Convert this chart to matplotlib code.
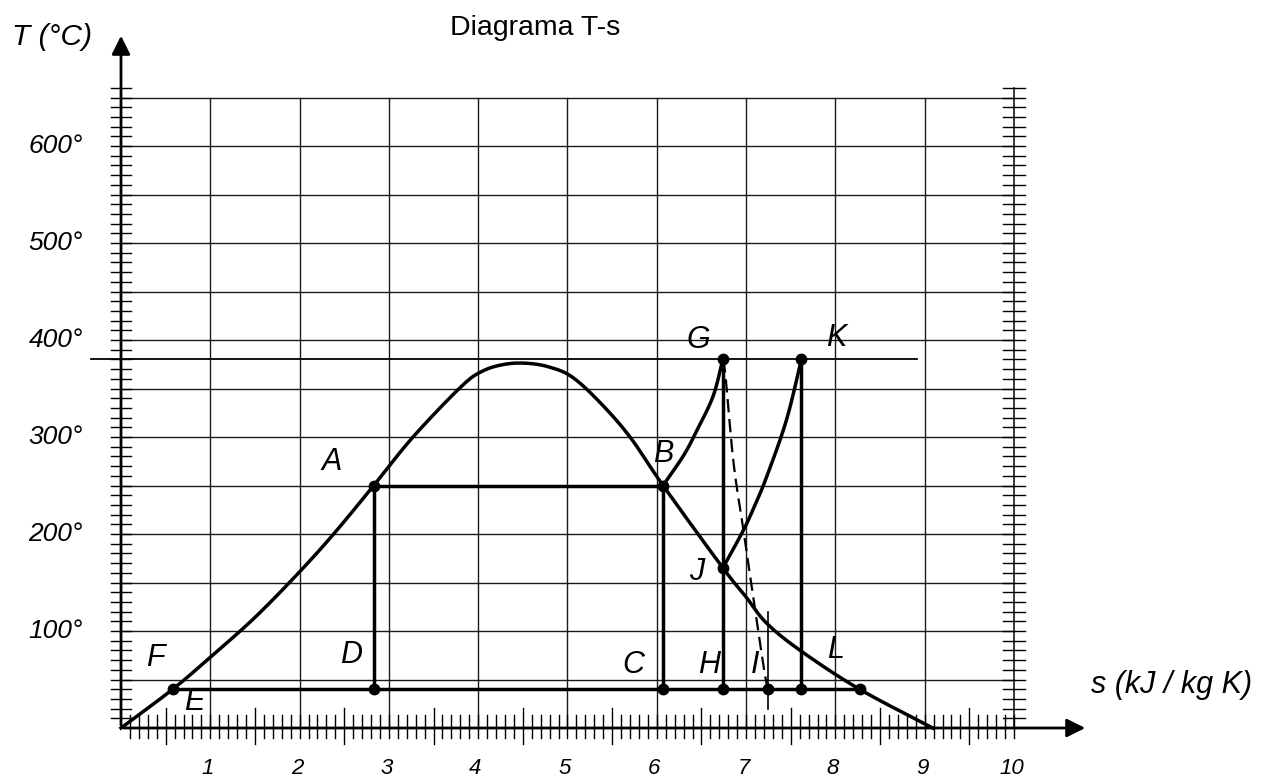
import matplotlib
matplotlib.use("Agg")
import matplotlib.pyplot as plt
import numpy as np

plt.rcParams['font.family'] = ['Liberation Sans', 'DejaVu Sans']

# saturation dome (s in kJ/kg K, T in degC)
dome_s = [0.0, 0.58, 1.0, 1.5, 2.0, 2.4, 2.83, 3.27, 3.81, 4.05, 4.30, 4.55,
          4.80, 5.05, 5.36, 5.70, 6.07, 6.74, 7.0, 7.23, 7.62, 8.27, 9.09]
dome_T = [0, 40, 73, 114, 161, 202, 250, 300, 352, 368, 375, 376,
          372, 362, 336, 300, 250, 165, 135, 108, 79, 40, 0]

# superheating B -> G and reheating J -> K
bg_s = [6.07, 6.30, 6.45, 6.63, 6.74]
bg_T = [250, 281, 307, 342, 380]
jk_s = [6.74, 6.97, 7.10, 7.23, 7.45, 7.62]
jk_T = [165, 204, 230, 259, 317, 380]

# real expansion G -> I (dashed)
gi_s = [6.74, 6.77, 6.86, 6.97, 7.08, 7.19, 7.24]
gi_T = [380, 362, 273, 204, 135, 67, 40]

# cycle lines
t_high = 380
t_evap = 250
t_cond = 40

# points with dots
dot_s = [0.58, 2.83, 6.07, 6.74, 7.24, 7.62, 8.27, 2.83, 6.07, 6.74, 6.74, 7.62]
dot_T = [40, 40, 40, 40, 40, 40, 40, 250, 250, 165, 380, 380]

# letter labels
lab_txt = ['A', 'B', 'C', 'D', 'E', 'F', 'G', 'H', 'I', 'J', 'K', 'L']
lab_s = [2.36, 6.07, 5.74, 2.58, 0.82, 0.38, 6.47, 6.58, 7.10, 6.45, 8.01, 8.0]
lab_T = [274, 282, 65, 75, 27, 72, 400, 65, 65, 161, 402, 80]

y_ticks = [100, 200, 300, 400, 500, 600]
x_ticks = [1, 2, 3, 4, 5, 6, 7, 8, 9, 10]

# pixel scale of the drawing
PXS = 89.3   # px per unit of s
PXT = 0.97   # px per degC
X0, Y0 = 121, 728
W, H = 1273, 784


def smooth(xs, ys, n=12):
    # catmull-rom through the given points, just for drawing
    p = np.column_stack([xs, ys]).astype(float)
    p = np.vstack([2 * p[0] - p[1], p, 2 * p[-1] - p[-2]])
    out = []
    for i in range(1, len(p) - 2):
        p0, p1, p2, p3 = p[i - 1], p[i], p[i + 1], p[i + 2]
        for t in np.linspace(0, 1, n, endpoint=False):
            out.append(0.5 * ((2 * p1) + (-p0 + p2) * t
                              + (2 * p0 - 5 * p1 + 4 * p2 - p3) * t ** 2
                              + (-p0 + 3 * p1 - 3 * p2 + p3) * t ** 3))
    out.append(p[-2])
    out = np.array(out)
    return out[:, 0], out[:, 1]


fig = plt.figure(figsize=(W / 100, H / 100), dpi=100)
ax = fig.add_axes([0, 0, 1, 1])
ax.set_xlim(-X0 / PXS, (W - X0) / PXS)
ax.set_ylim(-(H - Y0) / PXT, Y0 / PXT)
ax.axis('off')

k = 'black'
grid_c = '#1a1a1a'

# grid
for t in range(50, 651, 50):
    ax.plot([0, 10], [t, t], color=grid_c, lw=1.0)
for s in range(1, 10):
    ax.plot([s, s], [0, 650], color=grid_c, lw=1.0)
ax.plot([10, 10], [0, 660], color=grid_c, lw=1.2)

# temperature ticks on both vertical lines
for t in range(10, 661, 10):
    ax.plot([-10 / PXS, 10 / PXS], [t, t], color=k, lw=1.0)
    ax.plot([10 - 11 / PXS, 10 + 11 / PXS], [t, t], color=k, lw=1.0)

# entropy ticks
for i in range(1, 101):
    s = i / 10
    if i % 5 == 0 and i % 10 != 0:
        ax.plot([s, s], [-16 / PXT, 20 / PXT], color=k, lw=1.0)
    else:
        ax.plot([s, s], [-10 / PXT, 13 / PXT], color=k, lw=1.0)

# axes with arrows
ax.annotate('', xy=(0, (Y0 - 33) / PXT), xytext=(0, 0),
            arrowprops=dict(arrowstyle='-|>', lw=2.0, color=k, mutation_scale=28))
ax.annotate('', xy=((1088 - X0) / PXS, 0), xytext=(0, 0),
            arrowprops=dict(arrowstyle='-|>', lw=2.0, color=k, mutation_scale=28))

# high temperature line
ax.plot([-0.34, 8.91], [t_high, t_high], color=k, lw=1.3)

lw = 2.5
ax.plot(*smooth(dome_s, dome_T), color=k, lw=lw)
ax.plot(*smooth(bg_s, bg_T), color=k, lw=lw)
ax.plot(*smooth(jk_s, jk_T), color=k, lw=lw)
ax.plot(*smooth(gi_s, gi_T), color=k, lw=1.6, dashes=(6, 3))

ax.plot([2.83, 6.07], [t_evap, t_evap], color=k, lw=lw)
ax.plot([2.83, 2.83], [t_cond, t_evap], color=k, lw=lw)
ax.plot([6.07, 6.07], [t_cond, t_evap], color=k, lw=lw)
ax.plot([0.58, 8.27], [t_cond, t_cond], color=k, lw=lw)
ax.plot([6.74, 6.74], [t_cond, t_high], color=k, lw=lw)
ax.plot([7.62, 7.62], [t_cond, t_high], color=k, lw=lw)
ax.plot([7.24, 7.24], [20, 120], color=k, lw=1.2)

ax.plot(dot_s, dot_T, 'o', color=k, ms=7.5, zorder=5)

for txt, s, t in zip(lab_txt, lab_s, lab_T):
    ax.text(s, t, txt, fontsize=22, style='italic', ha='center', va='center')

for t in y_ticks:
    ax.text(-38 / PXS, t, f'{t}°', fontsize=19, style='italic', ha='right', va='center')
for s in x_ticks:
    ax.text(s - 0.03, -30 / PXT, str(s), fontsize=16, style='italic', ha='center', va='top')

ax.text(-109 / PXS, (Y0 - 45) / PXT, 'T (°C)', fontsize=21.5, style='italic',
        ha='left', va='baseline')
ax.text((535 - X0) / PXS, (Y0 - 35) / PXT, 'Diagrama T-s', fontsize=20.5,
        ha='center', va='baseline')
ax.text((1172 - X0) / PXS, 44, 's (kJ / kg K)', fontsize=22, style='italic',
        ha='center', va='center')

fig.savefig('out.png', dpi=100)
